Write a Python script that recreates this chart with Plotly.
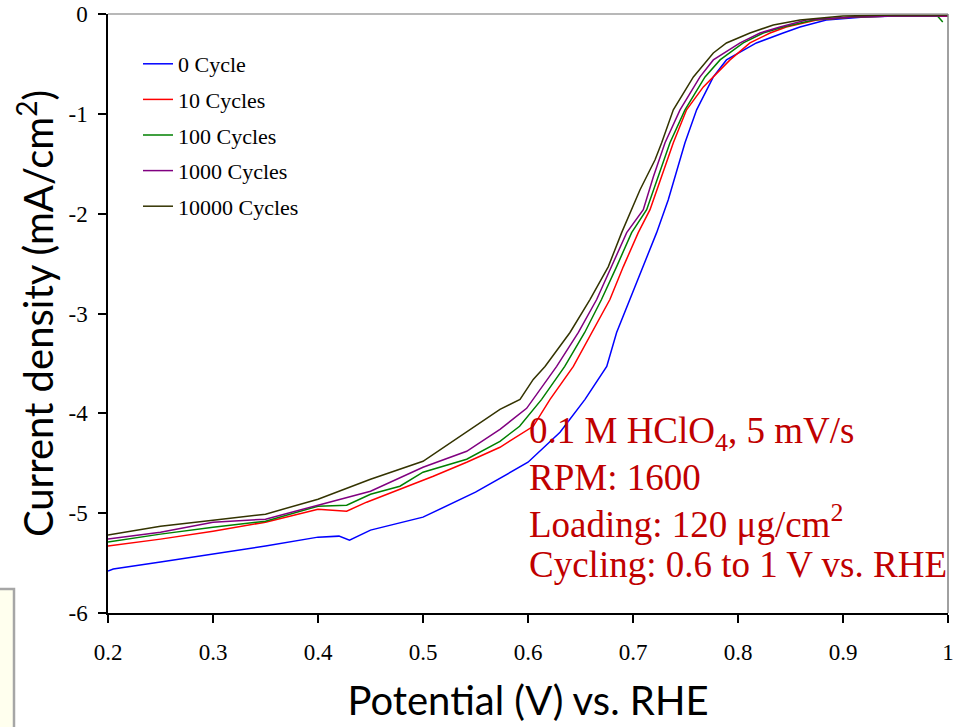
import plotly.graph_objects as go

# ---- data ----
v_0 = [0.2, 0.205, 0.25, 0.3, 0.35, 0.4, 0.42, 0.43, 0.45, 0.5, 0.55, 0.6, 0.6305, 0.6543, 0.675, 0.6844,
       0.6971, 0.7098, 0.7225, 0.7336, 0.74, 0.7495, 0.7606, 0.7765, 0.789, 0.8175, 0.843, 0.859, 0.884,
       0.92, 0.95, 1.0]
j_0 = [-5.58, -5.56, -5.49, -5.41, -5.33, -5.24, -5.23, -5.27, -5.17, -5.04, -4.79, -4.49, -4.19, -3.86, -3.53, -3.19,
       -2.86, -2.53, -2.19, -1.86, -1.63, -1.29, -0.96, -0.63, -0.46, -0.29, -0.19, -0.13, -0.06,
       -0.03, -0.02, -0.02]

v_10 = [0.2, 0.25, 0.3, 0.35, 0.4, 0.4273, 0.4463, 0.478, 0.5098, 0.5416, 0.5733, 0.605, 0.621, 0.6432,
        0.6606, 0.678, 0.6908, 0.705, 0.7162, 0.7273, 0.7384, 0.751, 0.767, 0.7924, 0.8114, 0.8305, 0.846,
        0.8749, 0.91, 0.95, 1.0]
j_10 = [-5.33, -5.26, -5.18, -5.09, -4.96, -4.98, -4.89, -4.76, -4.63, -4.49, -4.34, -4.13, -3.86, -3.53,
        -3.19, -2.86, -2.53, -2.19, -1.96, -1.63, -1.29, -0.96, -0.73, -0.46, -0.29, -0.19, -0.13,
        -0.06, -0.03, -0.02, -0.02]

v_100 = [0.2, 0.25, 0.3, 0.35, 0.4, 0.4273, 0.45, 0.478, 0.5, 0.5416, 0.5733, 0.592, 0.613, 0.635, 0.654,
         0.670, 0.6844, 0.6987, 0.713, 0.7241, 0.7352, 0.7495, 0.7686, 0.7829, 0.805, 0.824, 0.843, 0.872,
         0.91, 0.95, 0.99, 0.995]
j_100 = [-5.29, -5.21, -5.14, -5.08, -4.93, -4.92, -4.81, -4.73, -4.59, -4.46, -4.28, -4.13, -3.86, -3.53, -3.19,
         -2.86, -2.53, -2.19, -1.96, -1.63, -1.29, -0.96, -0.63, -0.46, -0.29, -0.19, -0.13, -0.06,
         -0.03, -0.02, -0.02, -0.08]

v_1000 = [0.2, 0.25, 0.3, 0.35, 0.4, 0.45, 0.5, 0.5416, 0.5733, 0.5987, 0.6273, 0.648, 0.6654, 0.6797,
          0.694, 0.7098, 0.7194, 0.7305, 0.7448, 0.7638, 0.7765, 0.802, 0.821, 0.84, 0.865, 0.91, 0.95, 1.0]
j_1000 = [-5.26, -5.19, -5.09, -5.06, -4.92, -4.78, -4.54, -4.38, -4.16, -3.95, -3.53, -3.19, -2.86, -2.53,
          -2.19, -1.96, -1.63, -1.29, -0.96, -0.63, -0.46, -0.29, -0.19, -0.13, -0.06, -0.03, -0.02, -0.02]

v_10000 = [0.2, 0.25, 0.3, 0.35, 0.4, 0.45, 0.5, 0.5416, 0.5733, 0.5924, 0.605, 0.6162, 0.64, 0.659,
           0.6765, 0.6892, 0.7067, 0.721, 0.7273, 0.7384, 0.7575, 0.7765, 0.789, 0.8114, 0.8336, 0.859,
           0.9, 0.95, 1.0]
j_10000 = [-5.22, -5.13, -5.07, -5.01, -4.86, -4.66, -4.48, -4.19, -3.96, -3.86, -3.66, -3.53, -3.19, -2.86,
           -2.53, -2.19, -1.76, -1.46, -1.29, -0.96, -0.63, -0.39, -0.29, -0.19, -0.11, -0.06,
           -0.02, -0.01, -0.01]

series_names = ["0 Cycle", "10 Cycles", "100 Cycles", "1000 Cycles", "10000 Cycles"]
series_x = [v_0, v_10, v_100, v_1000, v_10000]
series_y = [j_0, j_10, j_100, j_1000, j_10000]
series_colors = ["#0000FF", "#FF0000", "#008000", "#800080", "#333300"]

x_ticks = [0.2, 0.3, 0.4, 0.5, 0.6, 0.7, 0.8, 0.9, 1.0]
x_ticktext = ["0.2", "0.3", "0.4", "0.5", "0.6", "0.7", "0.8", "0.9", "1"]
y_ticks = [0, -1, -2, -3, -4, -5, -6]
y_ticktext = ["0", "-1", "-2", "-3", "-4", "-5", "-6"]

note_lines = ["0.1 M HClO<sub>4</sub>, 5 mV/s", "RPM: 1600", "Loading: 120 μg/cm<sup>2</sup>",
              "Cycling: 0.6 to 1 V vs. RHE"]
note_y = [-4.2, -4.64, -5.08, -5.51]

# ---- figure ----
W, H = 954, 727
L, R, T, B = 108, 6, 14, 114
PW, PH = W - L - R, H - T - B

fig = go.Figure()
for name, xs, ys, c in zip(series_names, series_x, series_y, series_colors):
    fig.add_trace(go.Scatter(x=xs, y=ys, mode="lines", name=name, legendgroup=name,
                             line=dict(color=c, width=1.5)))

serif = "Liberation Serif, Times New Roman, serif"
for txt, yy in zip(note_lines, note_y):
    fig.add_annotation(x=0.599, y=yy, xref="x", yref="y", text=txt, showarrow=False,
                       xanchor="left", yanchor="middle",
                       font=dict(family=serif, size=37, color="#C00000"))

# top / right border in gray
fig.add_shape(type="line", xref="paper", yref="paper", x0=0, x1=1, y0=1, y1=1,
              line=dict(color="#A0A0A0", width=1.5))
fig.add_shape(type="line", xref="paper", yref="paper", x0=1, x1=1, y0=0, y1=1,
              line=dict(color="#808080", width=1.5))


def px2x(px):
    return (px - L) / PW


def py2y(py):
    return (H - B - py) / PH


# partial yellow box at lower-left
fig.add_shape(type="rect", xref="paper", yref="paper",
              x0=px2x(-10), x1=px2x(14), y0=py2y(740), y1=py2y(589),
              line=dict(color="#A6A6A6", width=2.5), fillcolor="#FFFFEE", layer="above")

fig.update_layout(
    width=W, height=H,
    margin=dict(l=L, r=R, t=T, b=B, autoexpand=False),
    paper_bgcolor="white", plot_bgcolor="white",
    showlegend=True,
    legend=dict(x=px2x(138), y=py2y(43), xanchor="left", yanchor="top",
                font=dict(family=serif, size=22, color="black"),
                bgcolor="rgba(0,0,0,0)", tracegroupgap=4, traceorder="grouped",
                itemwidth=30),
    xaxis=dict(range=[0.2, 1.0], tickvals=x_ticks, ticktext=x_ticktext, automargin=False,
               showgrid=False, zeroline=False, showline=True, linecolor="black", linewidth=1.5,
               ticks="outside", ticklen=8, tickwidth=1.5, tickcolor="black",
               ticklabelstandoff=10,
               tickfont=dict(family=serif, size=23, color="black"),
               title=dict(text="Potential (V) vs. RHE", standoff=23,
                          font=dict(family="Lato, sans-serif", size=40, color="black"))),
    yaxis=dict(range=[-6, 0], tickvals=y_ticks, ticktext=y_ticktext, automargin=False,
               showgrid=False, zeroline=False, showline=True, linecolor="black", linewidth=1.5,
               ticks="outside", ticklen=8, tickwidth=1.5, tickcolor="black",
               ticklabelstandoff=6,
               tickfont=dict(family=serif, size=23, color="black"),
               title=dict(text="Current density (mA/cm<sup>2</sup>)", standoff=2,
                          font=dict(family="Lato, sans-serif", size=40, color="black"))),
)

fig.write_html("out.html", config={"displayModeBar": False},
               post_script="document.body.style.margin='0px';")
